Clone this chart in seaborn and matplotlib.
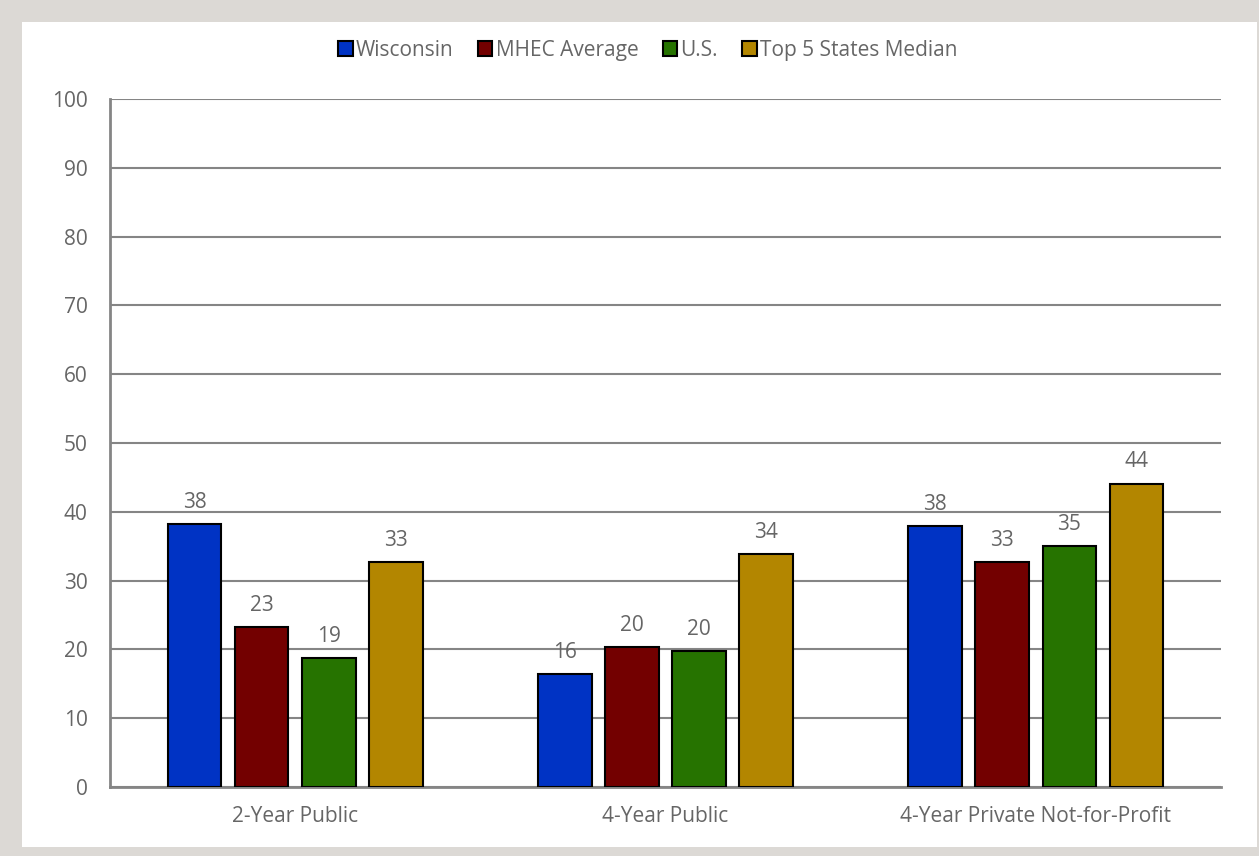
import matplotlib
matplotlib.use("Agg")
import matplotlib.pyplot as plt
from matplotlib.patches import Rectangle
import seaborn as sns
import pandas as pd

# Institution sectors and the four comparison series
sectors = ["2-Year Public", "4-Year Public", "4-Year Private Not-for-Profit"]
series = ["Wisconsin", "MHEC Average", "U.S.", "Top 5 States Median"]
wisconsin = [38.2, 16.4, 37.9]
mhec_avg = [23.3, 20.4, 32.7]
us = [18.7, 19.8, 35.0]
top5_median = [32.7, 33.8, 44.1]
colors = ["#0033C4", "#730000", "#267300", "#B38600"]
yticks = [0, 10, 20, 30, 40, 50, 60, 70, 80, 90, 100]

rows = []
for name, vals in zip(series, [wisconsin, mhec_avg, us, top5_median]):
    for sec, v in zip(sectors, vals):
        rows.append({"Sector": sec, "Group": name, "Value": v})
df = pd.DataFrame(rows)

sns.set_theme(style="white")
plt.rcParams["font.family"] = ["Open Sans", "DejaVu Sans"]
text_gray = "#666666"
line_gray = "#858585"
fs = 15

fig = plt.figure(figsize=(12.59, 8.56), dpi=100, facecolor="#DCD9D5")
# white card inside the grey frame
fig.patches.append(Rectangle((22 / 1259, 9 / 856), (1257 - 22) / 1259, (834 - 9) / 856,
                             transform=fig.transFigure, facecolor="white",
                             edgecolor="none", zorder=-10))
ax = fig.add_axes([110 / 1259, 69 / 856, (1221 - 110) / 1259, (787 - 99) / 856])
ax.set_zorder(5)
ax.set_facecolor("none")

sns.barplot(data=df, x="Sector", y="Value", hue="Group", order=sectors,
            hue_order=series, palette=colors, width=0.725, gap=0.2,
            edgecolor="black", linewidth=1.5, saturation=1, ax=ax, zorder=3)

for cont in ax.containers:
    ax.bar_label(cont, fmt="{:.0f}", padding=8, fontsize=fs, color=text_gray)

ax.set_ylim(0, 100)
ax.set_xlim(-0.5, 2.5)
ax.set_yticks(yticks)
ax.yaxis.grid(True, color=line_gray, linewidth=1.5, zorder=0)
ax.set_axisbelow(True)
ax.set_xlabel("")
ax.set_ylabel("")
for s in ["top", "right"]:
    ax.spines[s].set_visible(False)
for s in ["left", "bottom"]:
    ax.spines[s].set_color(line_gray)
    ax.spines[s].set_linewidth(2)
ax.tick_params(axis="both", length=0, labelsize=fs, colors=text_gray)
ax.tick_params(axis="y", pad=16)
ax.tick_params(axis="x", pad=14)

handles, labels = ax.get_legend_handles_labels()
ax.legend(handles, labels, loc="center", bbox_to_anchor=(0.484, 1.071), ncol=4,
          frameon=False, fontsize=fs, labelcolor=text_gray, handlelength=0.7,
          handleheight=0.7, handletextpad=0.15, columnspacing=1.17)

fig.savefig("out.png", dpi=100, facecolor=fig.get_facecolor())
